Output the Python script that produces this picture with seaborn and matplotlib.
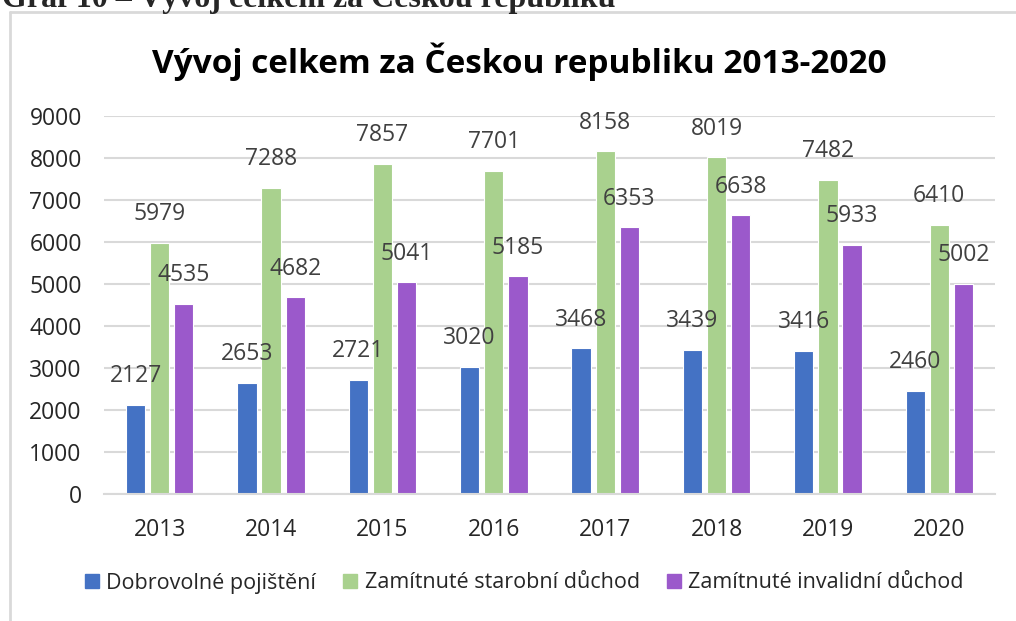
"""
Vývoj celkem za Českou republiku 2013-2020
"""

import matplotlib.pyplot as plt
from matplotlib.lines import Line2D
import pandas as pd
import seaborn as sns

YEARS = ["2013", "2014", "2015", "2016", "2017", "2018", "2019", "2020"]
DOBROVOLNE = [2127, 2653, 2721, 3020, 3468, 3439, 3416, 2460]
STAROBNI = [5979, 7288, 7857, 7701, 8158, 8019, 7482, 6410]
INVALIDNI = [4535, 4682, 5041, 5185, 6353, 6638, 5933, 5002]
SERIES = ["Dobrovolné pojištění", "Zamítnuté starobní důchod", "Zamítnuté invalidní důchod"]
COLORS = ["#4472C4", "#A9D18E", "#9B59CB"]
Y_TICKS = list(range(0, 9001, 1000))


def main():
    data = pd.DataFrame({
        "rok": YEARS * 3,
        "pocet": DOBROVOLNE + STAROBNI + INVALIDNI,
        "rada": [s for s in SERIES for _ in YEARS],
    })

    sns.set_style("white")
    plt.rcParams["font.family"] = ["Open Sans", "DejaVu Sans"]

    fig = plt.figure(figsize=(10.16, 6.21), dpi=100)
    ax = fig.add_axes([104 / 1016, 127 / 621, 891 / 1016, 378 / 621])

    sns.barplot(
        data=data,
        x="rok",
        y="pocet",
        hue="rada",
        hue_order=SERIES,
        palette=COLORS,
        saturation=1,
        width=0.65,
        gap=0.2,
        edgecolor="white",
        linewidth=0.8,
        errorbar=None,
        legend=False,
        ax=ax,
    )

    for container in ax.containers:
        ax.bar_label(container, padding=12, color="#404040", fontsize=16.5)

    ax.set_ylim(0, 9000)
    ax.set_yticks(Y_TICKS)
    ax.grid(axis="y", color="#D9D9D9", linewidth=1.5)
    ax.set_axisbelow(True)
    for side in ("top", "right", "left"):
        ax.spines[side].set_visible(False)
    ax.spines["bottom"].set_color("#D9D9D9")
    ax.spines["bottom"].set_linewidth(1.5)
    ax.tick_params(axis="y", length=0, pad=16, labelsize=16.5, labelcolor="#262626")
    ax.tick_params(axis="x", length=0, pad=17, labelsize=16.5, labelcolor="#262626")
    ax.set_xlabel("")
    ax.set_ylabel("")

    fig.text(0.511, 1 - 62 / 621, "Vývoj celkem za Českou republiku 2013-2020",
             ha="center", va="center", fontsize=24, fontweight="bold", color="black")

    handles = [plt.Rectangle((0, 0), 1, 1, color=c) for c in COLORS]
    fig.legend(handles, SERIES, loc="center", bbox_to_anchor=(0.516, 1 - 583 / 621),
               ncol=3, frameon=False, fontsize=15.5, handlelength=0.65, handleheight=0.65,
               handletextpad=0.35, columnspacing=1.25, labelcolor="#262626")

    # frame of the chart box, cut off by the screenshot
    fig.add_artist(Line2D([10 / 1016, 10 / 1016], [0, 1 - 12 / 621],
                          transform=fig.transFigure, color="#D9D9D9", linewidth=2))
    fig.add_artist(Line2D([10 / 1016, 1], [1 - 12 / 621, 1 - 12 / 621],
                          transform=fig.transFigure, color="#D9D9D9", linewidth=2))

    # document caption above the chart, mostly cut off
    fig.text(0.002, 1 - 7 / 621, "Graf 10 – Vývoj celkem za Českou republiku",
             ha="left", va="baseline", fontsize=23, fontweight="bold",
             family=["Liberation Serif", "DejaVu Serif"])

    fig.savefig("out.png", dpi=100)


if __name__ == "__main__":
    main()
